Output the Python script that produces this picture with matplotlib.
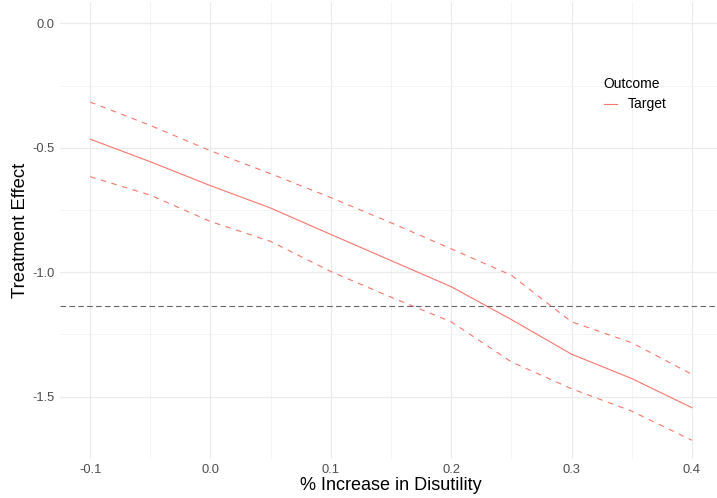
import numpy as np
import matplotlib.pyplot as plt
from matplotlib.ticker import MultipleLocator

# data
disutility = [-0.1, -0.05, 0.0, 0.05, 0.1, 0.15, 0.2, 0.25, 0.3, 0.35, 0.4]
effect = [-0.465, -0.556, -0.652, -0.742, -0.848, -0.953, -1.058, -1.19, -1.329, -1.427, -1.544]
upper = [-0.316, -0.41, -0.512, -0.604, -0.70, -0.801, -0.906, -1.012, -1.199, -1.283, -1.41]
lower = [-0.616, -0.69, -0.796, -0.876, -0.997, -1.10, -1.199, -1.36, -1.468, -1.558, -1.675]
benchmark = -1.135

red = "#F8766D"
plt.rcParams["font.family"] = ["Liberation Sans", "DejaVu Sans"]

fig = plt.figure(figsize=(7.17, 4.98), dpi=100)
# panel runs a bit past the right edge of the image, as in the reference
ax = fig.add_axes([60 / 717, 1 - 458.7 / 498, 662 / 717, 457 / 498])

ax.plot(disutility, effect, color=red, lw=0.8, label="Target")
ax.plot(disutility, upper, color=red, lw=0.8, ls=(0, (5, 5)))
ax.plot(disutility, lower, color=red, lw=0.8, ls=(0, (5, 5)))
ax.axhline(benchmark, color="#666666", lw=0.8, ls=(0, (5, 3)))

ax.set_xlim(-0.125, 0.425)
ax.set_ylim(-1.749, 0.087)
ax.xaxis.set_major_locator(MultipleLocator(0.1))
ax.xaxis.set_minor_locator(MultipleLocator(0.05))
ax.yaxis.set_major_locator(MultipleLocator(0.5))
ax.yaxis.set_minor_locator(MultipleLocator(0.25))
ax.xaxis.set_major_formatter(lambda v, p: f"{v:.1f}".replace("-0.0", "0.0"))
ax.yaxis.set_major_formatter(lambda v, p: f"{v:.1f}".replace("-0.0", "0.0"))

ax.grid(which="major", color="#EBEBEB", lw=0.9)
ax.grid(which="minor", color="#F2F2F2", lw=0.6)
ax.set_axisbelow(True)
for s in ax.spines.values():
    s.set_visible(False)
ax.tick_params(which="both", length=0, labelsize=9.3, labelcolor="#4D4D4D", pad=4)

ax.set_xlabel("% Increase in Disutility", fontsize=13)
ax.set_ylabel("Treatment Effect", fontsize=13.3)
ax.xaxis.set_label_coords(0.5, (458.7 - 477) / 457)
ax.yaxis.set_label_coords((29 - 60) / 662, 0.5)

leg = ax.legend(title="Outcome", loc="upper left", frameon=False, fontsize=10,
                title_fontsize=10, handlelength=1.0, handletextpad=0.75)
leg._legend_box.align = "left"
leg.set_bbox_to_anchor((591 / 717, 1 - 64 / 498), transform=fig.transFigure)

fig.savefig("out.png", dpi=100)
